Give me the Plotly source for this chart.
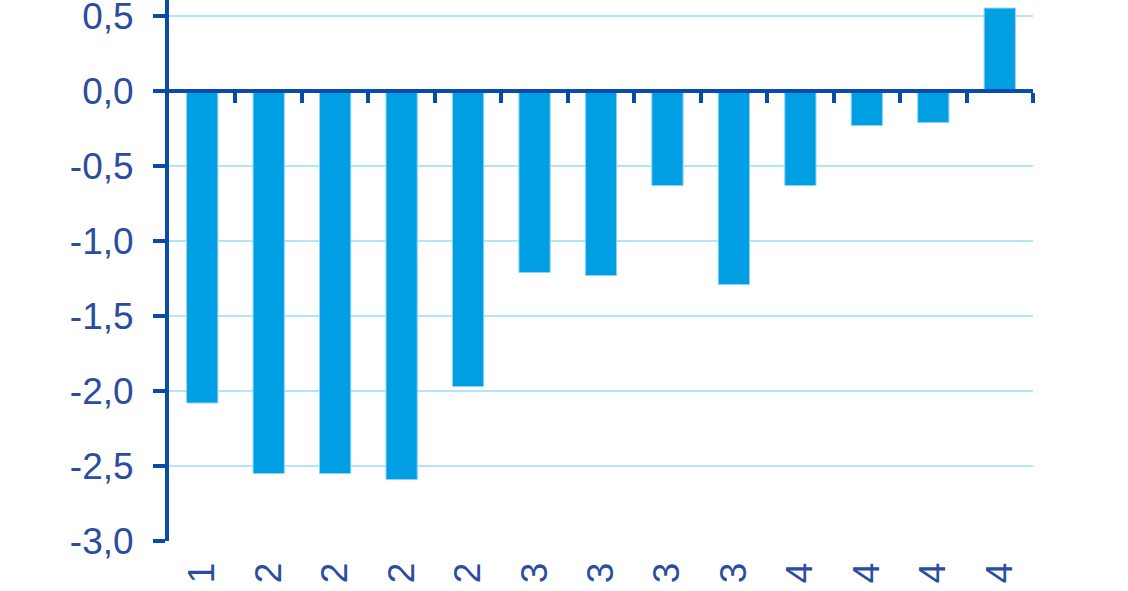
import plotly.graph_objects as go

# categories (tick labels) and bar values
labels = ["1", "2", "2", "2", "2", "3", "3", "3", "3", "4", "4", "4", "4"]
values = [-2.08, -2.55, -2.55, -2.59, -1.97, -1.21, -1.23, -0.63, -1.29, -0.63, -0.23, -0.21, 0.553]
yticks = [0.5, 0.0, -0.5, -1.0, -1.5, -2.0, -2.5, -3.0]
ytick_text = ["0,5", "0,0", "-0,5", "-1,0", "-1,5", "-2,0", "-2,5", "-3,0"]

idx = list(range(len(labels)))
bounds = [i + 0.5 for i in idx]

axis_blue = "#0A4AAA"
text_blue = "#2A4DA0"
grid_blue = "#B3E5F8"
bar_blue = "#009FE3"

y_min, y_max = -3.0, 0.607
zero_pos = (0 - y_min) / (y_max - y_min)

fig = go.Figure()
fig.add_trace(go.Bar(x=idx, y=values, marker=dict(color=bar_blue, line=dict(color="#8FD3F2", width=1)),
                     width=0.47))

tick_font = dict(family="Liberation Sans, Arial", size=37, color=text_blue)

fig.update_layout(
    width=1128, height=591,
    margin=dict(l=169, r=95, t=0, b=50),
    plot_bgcolor="white", paper_bgcolor="white",
    showlegend=False,
    font=tick_font,
    xaxis=dict(range=[-0.5, len(labels) - 0.5], tickvals=idx, ticktext=labels,
               tickangle=-90, tickfont=tick_font, automargin=False,
               ticklabeloverflow="allow",
               showgrid=False, zeroline=False, showline=False,
               ticks="outside", ticklen=6, tickcolor="rgba(0,0,0,0)"),
    xaxis2=dict(range=[-0.5, len(labels) - 0.5], overlaying="x", anchor="free",
                position=zero_pos, side="bottom", tickvals=bounds, automargin=False,
                showticklabels=False, showgrid=False, zeroline=False,
                showline=True, linecolor=axis_blue, linewidth=4,
                ticks="outside", ticklen=10, tickwidth=4, tickcolor=axis_blue),
    yaxis=dict(range=[y_min, y_max], tickvals=yticks, ticktext=ytick_text,
               tickfont=tick_font, automargin=False, ticklabeloverflow="allow",
               showgrid=True, gridcolor=grid_blue, gridwidth=2, zeroline=False,
               showline=True, linecolor=axis_blue, linewidth=4,
               ticks="outside", ticklen=12, tickwidth=4, tickcolor=axis_blue,
               ticklabelstandoff=12),
)
# invisible helper trace so xaxis2 is drawn
fig.add_trace(go.Scatter(x=[idx[0]], y=[0], xaxis="x2", mode="markers",
                         marker=dict(opacity=0), hoverinfo="skip"))

# drop the default page margin so the figure fills the window
fig.write_html("out.html", config={"displayModeBar": False},
               post_script="document.body.style.margin='0';")
